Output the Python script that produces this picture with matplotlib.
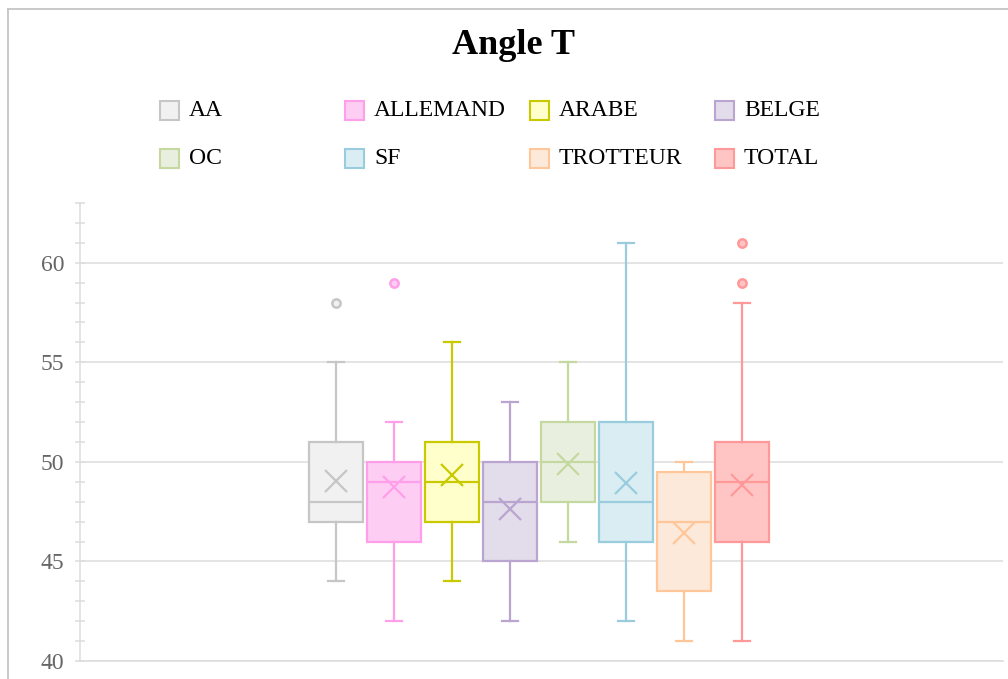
import matplotlib.pyplot as plt
from matplotlib.patches import Rectangle
from matplotlib.lines import Line2D

# donnees (Angle T)
groupes = ['AA', 'ALLEMAND', 'ARABE', 'BELGE', 'OC', 'SF', 'TROTTEUR', 'TOTAL']
w_bas = [44, 42, 44, 42, 46, 42, 41, 41]
q1 = [47, 46, 47, 45, 48, 46, 43.5, 46]
mediane = [48, 49, 49, 48, 50, 48, 47, 49]
q3 = [51, 50, 51, 50, 52, 52, 49.5, 51]
w_haut = [55, 52, 56, 53, 55, 61, 50, 58]
moyenne = [49.05, 48.75, 49.35, 47.65, 49.9, 48.95, 46.45, 48.85]
aberrants = [[58], [59], [], [], [], [], [], [59, 61]]

traits = ['#c6c6c6', '#ff9ee9', '#c9c900', '#b9a5cf', '#c5d89f', '#99cddd', '#ffc699', '#ff9999']
fonds = ['#f1f1f1', '#fdcdf3', '#ffffcc', '#e3dcea', '#e9efdf', '#daedf3', '#fde9d9', '#ffc5c5']

plt.rcParams['font.family'] = ['Liberation Serif', 'DejaVu Serif']

fig = plt.figure(figsize=(10.08, 6.79), dpi=100)
W, H = 1008, 679
ax = fig.add_axes([80 / W, 18 / H, (1003 - 80) / W, (661 - 203) / H])

stats = []
for i, g in enumerate(groupes):
    stats.append(dict(label=g, whislo=w_bas[i], q1=q1[i], med=mediane[i],
                      q3=q3[i], whishi=w_haut[i], mean=moyenne[i],
                      fliers=aberrants[i]))

pos = list(range(len(groupes)))
bp = ax.bxp(stats, positions=pos, widths=0.93, capwidths=0.27,
            patch_artist=True, showmeans=True, manage_ticks=False)

for i in range(len(groupes)):
    c, f = traits[i], fonds[i]
    bp['boxes'][i].set(facecolor=f, edgecolor=c, linewidth=1.6)
    bp['medians'][i].set(color=c, linewidth=1.6)
    for k in (2 * i, 2 * i + 1):
        bp['whiskers'][k].set(color=c, linewidth=1.6)
        bp['caps'][k].set(color=c, linewidth=1.6)
    bp['means'][i].set(marker='x', markersize=15.5, markeredgecolor=c,
                       markeredgewidth=1.6, markerfacecolor=c)
    bp['fliers'][i].set(marker='o', markersize=6, markerfacecolor=f,
                        markeredgecolor=c, markeredgewidth=1.8)

ax.set_xlim(3.5 - (539 - 80) / 58, 3.5 + (1003 - 539) / 58)
ax.set_ylim(40, 63)
ax.set_yticks([40, 45, 50, 55, 60])
ax.set_yticks(range(40, 64), minor=True)
ax.set_xticks([])
ax.grid(axis='y', color='#dddddd', linewidth=1.1)
ax.set_axisbelow(True)
for s in ['top', 'right']:
    ax.spines[s].set_visible(False)
ax.spines['left'].set_color('#dddddd')
ax.spines['bottom'].set_color('#dddddd')
ax.spines['left'].set_linewidth(1.1)
ax.spines['bottom'].set_linewidth(1.1)
ax.tick_params(axis='y', which='both', direction='inout', length=6.5,
               color='#dddddd', width=1.1, labelsize=17, labelcolor='#666666', pad=8)
ax.tick_params(axis='x', length=0)

fig.text(514 / W, 1 - 45 / H, 'Angle T', ha='center', va='center',
         fontsize=26, fontweight='bold')

# legende sur une grille de 4 colonnes
col_x = [160, 345, 530, 715]
row_y = [110, 158]
for i, g in enumerate(groupes):
    x0 = col_x[i % 4]
    y0 = row_y[i // 4]
    fig.patches.append(Rectangle(((x0) / W, 1 - (y0 + 9.5) / H), 19 / W, 19 / H,
                                 transform=fig.transFigure, facecolor=fonds[i],
                                 edgecolor=traits[i], linewidth=1.5))
    fig.text((x0 + 29) / W, 1 - y0 / H, g, ha='left', va='center', fontsize=17)

# bordure grise du cadre
fig.add_artist(Line2D([7.5 / W, 7.5 / W], [0, 1 - 8.5 / H], transform=fig.transFigure,
                      color='#c0c0c0', linewidth=1.2))
fig.add_artist(Line2D([7.5 / W, 1], [1 - 8.5 / H, 1 - 8.5 / H], transform=fig.transFigure,
                      color='#c0c0c0', linewidth=1.2))

fig.savefig('out.png', dpi=100)
